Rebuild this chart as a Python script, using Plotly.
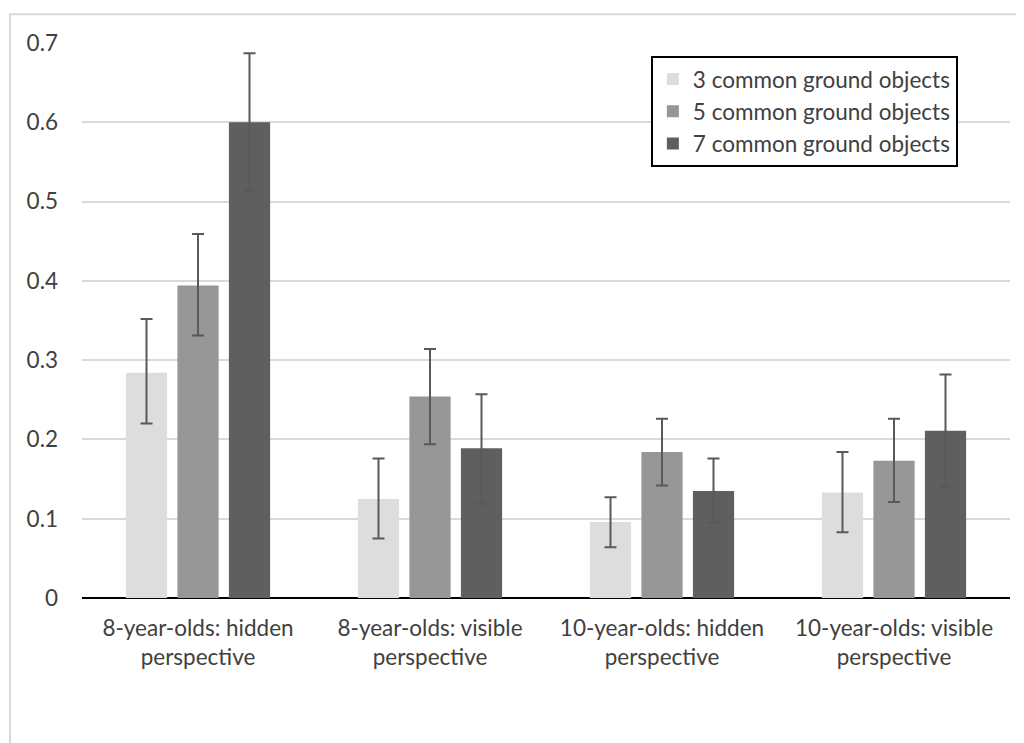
import plotly.graph_objects as go

categories = ["8-year-olds: hidden<br>perspective", "8-year-olds: visible<br>perspective",
              "10-year-olds: hidden<br>perspective", "10-year-olds: visible<br>perspective"]
series_names = ["3 common ground objects", "5 common ground objects", "7 common ground objects"]
vals_3 = [0.284, 0.125, 0.096, 0.133]
vals_5 = [0.394, 0.254, 0.184, 0.173]
vals_7 = [0.600, 0.189, 0.135, 0.211]
upper_3 = [0.352, 0.176, 0.127, 0.184]
upper_5 = [0.459, 0.314, 0.226, 0.226]
upper_7 = [0.687, 0.257, 0.176, 0.282]
lower_3 = [0.220, 0.075, 0.064, 0.083]
lower_5 = [0.331, 0.194, 0.142, 0.121]
lower_7 = [0.514, 0.119, 0.095, 0.141]
colors = ["#dddddd", "#969696", "#5f5f5f"]
yticks = [0, 0.1, 0.2, 0.3, 0.4, 0.5, 0.6, 0.7]
ytick_text = ["0", "0.1", "0.2", "0.3", "0.4", "0.5", "0.6", "0.7"]

FONT = "Lato, 'Open Sans', sans-serif"
FS = 22.5

fig = go.Figure()
for name, vals, up, lo, col in zip(series_names, [vals_3, vals_5, vals_7],
                                   [upper_3, upper_5, upper_7], [lower_3, lower_5, lower_7], colors):
    fig.add_trace(go.Bar(
        x=categories, y=vals, name=name, marker=dict(color=col, line=dict(width=0)),
        error_y=dict(type="data", symmetric=False,
                     array=[u - v for u, v in zip(up, vals)],
                     arrayminus=[v - l for v, l in zip(vals, lo)],
                     color="#595959", thickness=2, width=6),
    ))

fig.update_layout(
    width=1016, height=735,
    margin=dict(l=74, r=14, t=35, b=145),
    paper_bgcolor="white", plot_bgcolor="white",
    barmode="group", bargap=0.334, bargroupgap=0.2,
    font=dict(family=FONT, size=FS, color="#404040"),
    showlegend=True,
    legend=dict(x=0.613, y=0.977, xanchor="left", yanchor="top",
                bordercolor="black", borderwidth=2, bgcolor="white",
                font=dict(family=FONT, size=FS, color="#404040"),
                tracegroupgap=0, itemsizing="constant"),
    xaxis=dict(showgrid=False, showline=False, ticks="", ticklabelstandoff=14,
               tickfont=dict(size=FS, color="#404040")),
    yaxis=dict(range=[0, 0.7], tickvals=yticks, ticktext=ytick_text,
               showgrid=True, gridcolor="#d9d9d9", gridwidth=2,
               zeroline=True, zerolinecolor="black", zerolinewidth=2,
               showline=False, ticks="", ticklabelstandoff=23,
               tickfont=dict(size=FS, color="#404040")),
    shapes=[dict(type="rect", xref="paper", yref="paper",
                 x0=-0.0776, x1=1.03, y0=-0.3, y1=1.0517,
                 line=dict(color="#d9d9d9", width=2), fillcolor="rgba(0,0,0,0)", layer="below")],
)

fig.write_html("out.html")
